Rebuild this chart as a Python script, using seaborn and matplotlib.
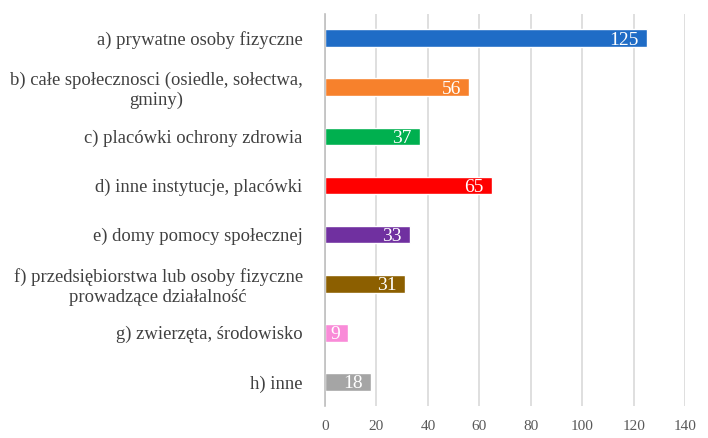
import matplotlib
matplotlib.use("Agg")
import matplotlib.pyplot as plt
import seaborn as sns
import pandas as pd

# dane z wykresu
categories = [
    "a) prywatne osoby fizyczne",
    "b) całe społecznosci (osiedle, sołectwa,\ngminy)",
    "c) placówki ochrony zdrowia",
    "d) inne instytucje, placówki",
    "e) domy pomocy społecznej",
    "f) przedsiębiorstwa lub osoby fizyczne\nprowadzące działalność",
    "g) zwierzęta, środowisko",
    "h) inne",
]
values = [125, 56, 37, 65, 33, 31, 9, 18]
colors = ["#1F6CC6", "#F7812C", "#00B04F", "#FF0000", "#7030A0",
          "#8C5F00", "#F98BD8", "#A5A5A5"]
x_ticks = [0, 20, 40, 60, 80, 100, 120, 140]

df = pd.DataFrame({"kategoria": categories, "liczba": values})

sns.set_style("white")
plt.rcParams["font.family"] = ["Liberation Serif", "DejaVu Serif"]

fig = plt.figure(figsize=(7.08, 4.38), dpi=100)
ax = fig.add_axes([0.459, 0.072, 0.509, 0.897])

sns.barplot(data=df, y="kategoria", x="liczba", hue="kategoria",
            palette=colors, orient="h", width=0.36, legend=False,
            saturation=1, ax=ax)

# etykiety wartości wewnątrz słupków
for i, v in enumerate(values):
    ax.annotate(str(v), xy=(v, i), xytext=(-6, 0), textcoords="offset points",
                ha="right", va="center_baseline", color="white", fontsize=14)

ax.set_xlim(0, 140)
ax.set_xticks(x_ticks)
ax.set_xlabel("")
ax.set_ylabel("")
ax.grid(axis="x", color="#D9D9D9", linewidth=1.2)
ax.set_axisbelow(True)
for side in ["top", "right", "bottom"]:
    ax.spines[side].set_visible(False)
ax.spines["left"].set_color("#BFBFBF")
ax.spines["left"].set_linewidth(1.2)
ax.tick_params(axis="y", length=0, pad=16, labelsize=13.4, labelcolor="#404040")
ax.tick_params(axis="x", length=0, pad=10, labelsize=11, labelcolor="#595959")
for lbl in ax.get_yticklabels():
    lbl.set_multialignment("center")

fig.savefig("out.png", dpi=100)
